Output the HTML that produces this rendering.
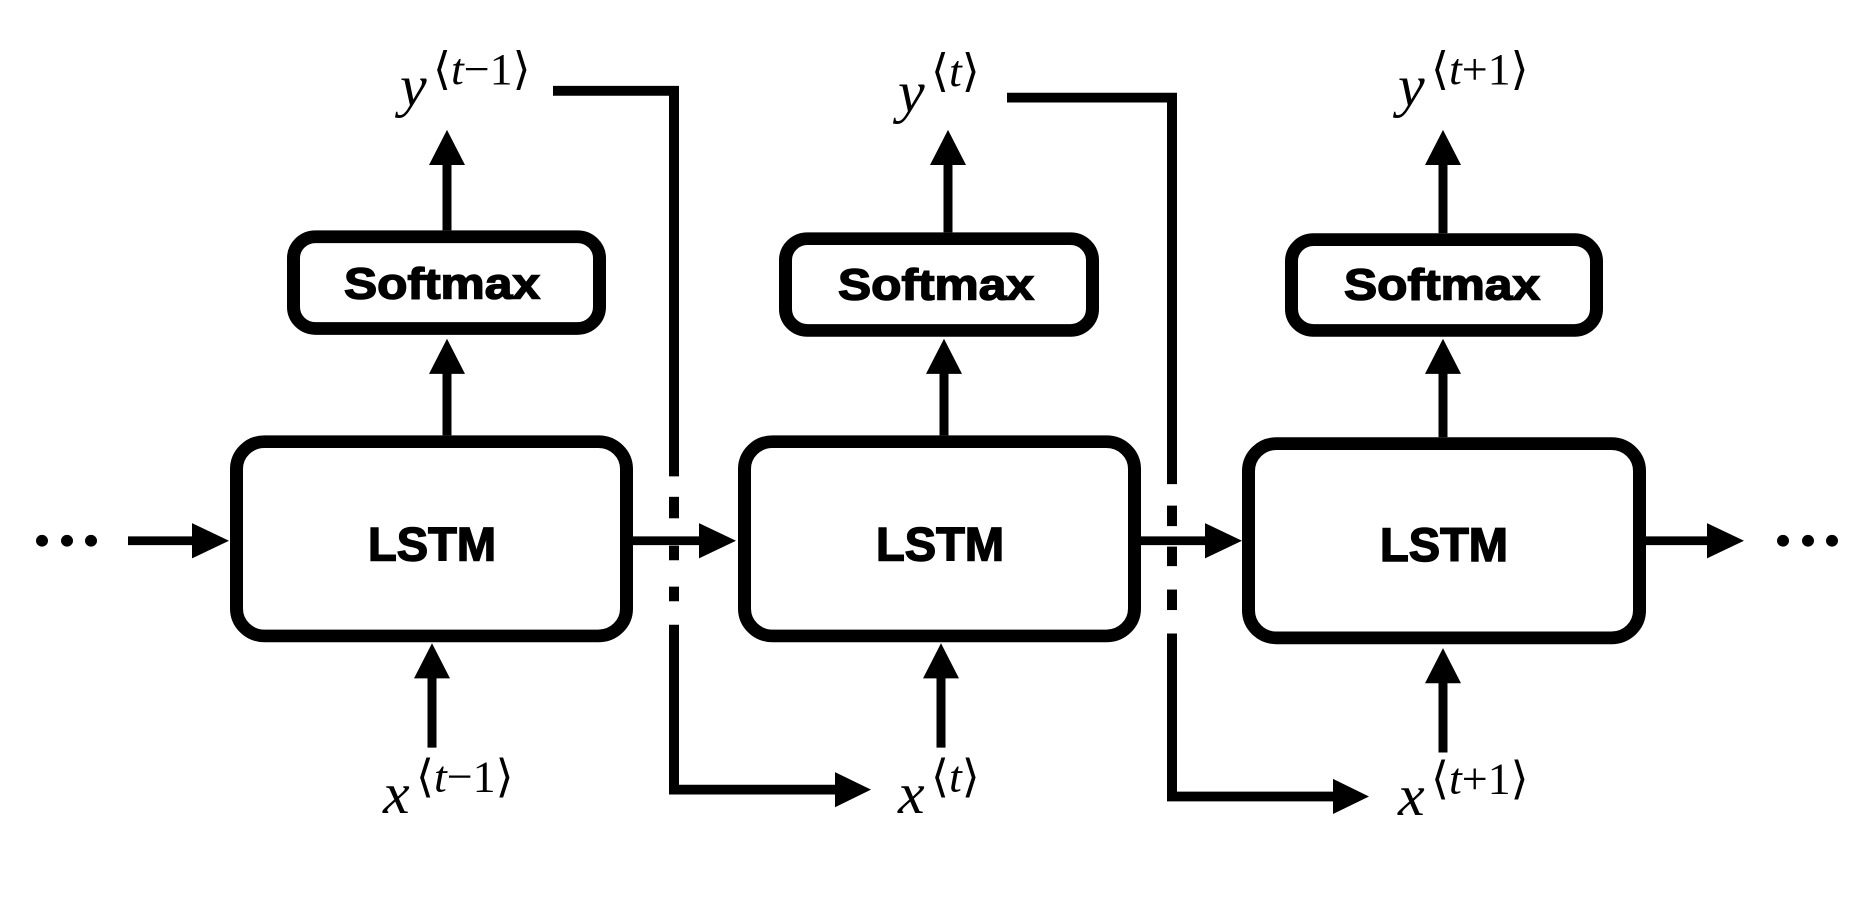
<!DOCTYPE html>
<html><head><meta charset="utf-8"><style>
html,body{margin:0;padding:0;background:#fff;}
svg{display:block;}
.box{fill:none;stroke:#000;stroke-width:13;}
.ln{stroke:#000;stroke-width:9;fill:none;}
.fb{stroke:#000;stroke-width:10;fill:none;}
.lbl{font-family:"Liberation Sans",sans-serif;font-weight:bold;fill:#000;stroke:#000;stroke-width:1.5;text-anchor:middle;}
.m{font-family:"Liberation Serif","DejaVu Serif",serif;font-style:italic;fill:#000;}
.s{font-family:"Liberation Serif","DejaVu Serif",serif;fill:#000;}
</style></head><body>
<svg width="1870" height="914" viewBox="0 0 1870 914" xmlns="http://www.w3.org/2000/svg">
<g transform="translate(0,2) scale(1,0.976)">
<circle cx="42" cy="552" r="6"/><circle cx="67" cy="552" r="6"/><circle cx="91" cy="552" r="6"/>
<circle cx="1783" cy="552" r="6"/><circle cx="1808" cy="552" r="6"/><circle cx="1832" cy="552" r="6"/>

<rect class="box" x="236.5" y="450.5" width="390" height="199" rx="28"/>
<rect class="box" x="744.5" y="450.5" width="390" height="199" rx="28"/>
<rect class="box" x="1248.5" y="452.5" width="391" height="199" rx="28"/>
<text class="lbl" x="432" y="572" font-size="48" textLength="128" lengthAdjust="spacingAndGlyphs">LSTM</text>
<text class="lbl" x="940" y="572" font-size="48" textLength="128" lengthAdjust="spacingAndGlyphs">LSTM</text>
<text class="lbl" x="1444" y="573" font-size="48" textLength="128" lengthAdjust="spacingAndGlyphs">LSTM</text>

<rect class="box" x="293.5" y="240.5" width="306" height="94" rx="22"/>
<rect class="box" x="785.5" y="242.5" width="307" height="94" rx="22"/>
<rect class="box" x="1291.5" y="243.5" width="305" height="93" rx="22"/>
<text class="lbl" x="442" y="304" font-size="45" textLength="196" lengthAdjust="spacingAndGlyphs">Softmax</text>
<text class="lbl" x="936" y="305" font-size="45" textLength="196" lengthAdjust="spacingAndGlyphs">Softmax</text>
<text class="lbl" x="1442" y="305" font-size="45" textLength="196" lengthAdjust="spacingAndGlyphs">Softmax</text>

<line class="ln" x1="128" y1="552" x2="195" y2="552"/><polygon points="192,534 229,552 192,570"/>
<line class="ln" x1="633" y1="552" x2="702" y2="552"/><polygon points="699,534 736,552 699,570"/>
<line class="ln" x1="1141" y1="552" x2="1208" y2="552"/><polygon points="1205,534 1242,552 1205,570"/>
<line class="ln" x1="1646" y1="552" x2="1710" y2="552"/><polygon points="1707,534 1744,552 1707,570"/>

<line class="ln" x1="447" y1="444" x2="447" y2="378"/><polygon points="429,381 447,345 465,381"/>
<line class="ln" x1="447" y1="234" x2="447" y2="164"/><polygon points="429,167 447,131 465,167"/>
<line class="ln" x1="432" y1="764" x2="432" y2="690"/><polygon points="414,693 432,657 450,693"/>
<line class="ln" x1="944" y1="444" x2="944" y2="378"/><polygon points="926,381 944,345 962,381"/>
<line class="ln" x1="948" y1="236" x2="948" y2="164"/><polygon points="930,167 948,131 966,167"/>
<line class="ln" x1="941" y1="764" x2="941" y2="690"/><polygon points="923,693 941,657 959,693"/>
<line class="ln" x1="1443" y1="446" x2="1443" y2="378"/><polygon points="1425,381 1443,345 1461,381"/>
<line class="ln" x1="1443" y1="237" x2="1443" y2="164"/><polygon points="1425,167 1443,131 1461,167"/>
<line class="ln" x1="1443" y1="769" x2="1443" y2="695"/><polygon points="1425,698 1443,662 1461,698"/>

<polyline class="fb" points="553,91 674,91 674,486"/>
<line class="fb" x1="674" y1="507" x2="674" y2="529"/>
<line class="fb" x1="674" y1="557" x2="674" y2="572"/>
<line class="fb" x1="674" y1="599" x2="674" y2="614"/>
<polyline class="fb" points="674,638 674,807 838,807"/>
<polygon points="835,789 871,807 835,825"/>
<polyline class="fb" points="1007,98 1172,98 1172,494"/>
<line class="fb" x1="1172" y1="516" x2="1172" y2="537"/>
<line class="fb" x1="1172" y1="558" x2="1172" y2="578"/>
<line class="fb" x1="1172" y1="602" x2="1172" y2="623"/>
<polyline class="fb" points="1172,647 1172,814 1336,814"/>
<polygon points="1333,796 1369,814 1333,832"/>

<text x="400" y="106" class="m" font-size="60">y</text>
<text x="433" y="84" class="s" font-size="46">⟨<tspan class="m">t</tspan>−1⟩</text>
<text x="898" y="112" class="m" font-size="60">y</text>
<text x="931" y="86" class="s" font-size="46">⟨<tspan class="m">t</tspan>⟩</text>
<text x="1398" y="106" class="m" font-size="60">y</text>
<text x="1431" y="84" class="s" font-size="46">⟨<tspan class="m">t</tspan>+1⟩</text>

<text x="383" y="831" class="m" font-size="60">x</text>
<text x="416" y="809" class="s" font-size="46">⟨<tspan class="m">t</tspan>−1⟩</text>
<text x="898" y="831" class="m" font-size="60">x</text>
<text x="931" y="809" class="s" font-size="46">⟨<tspan class="m">t</tspan>⟩</text>
<text x="1398" y="833" class="m" font-size="60">x</text>
<text x="1431" y="811" class="s" font-size="46">⟨<tspan class="m">t</tspan>+1⟩</text>
</g>
</svg>
</body></html>
